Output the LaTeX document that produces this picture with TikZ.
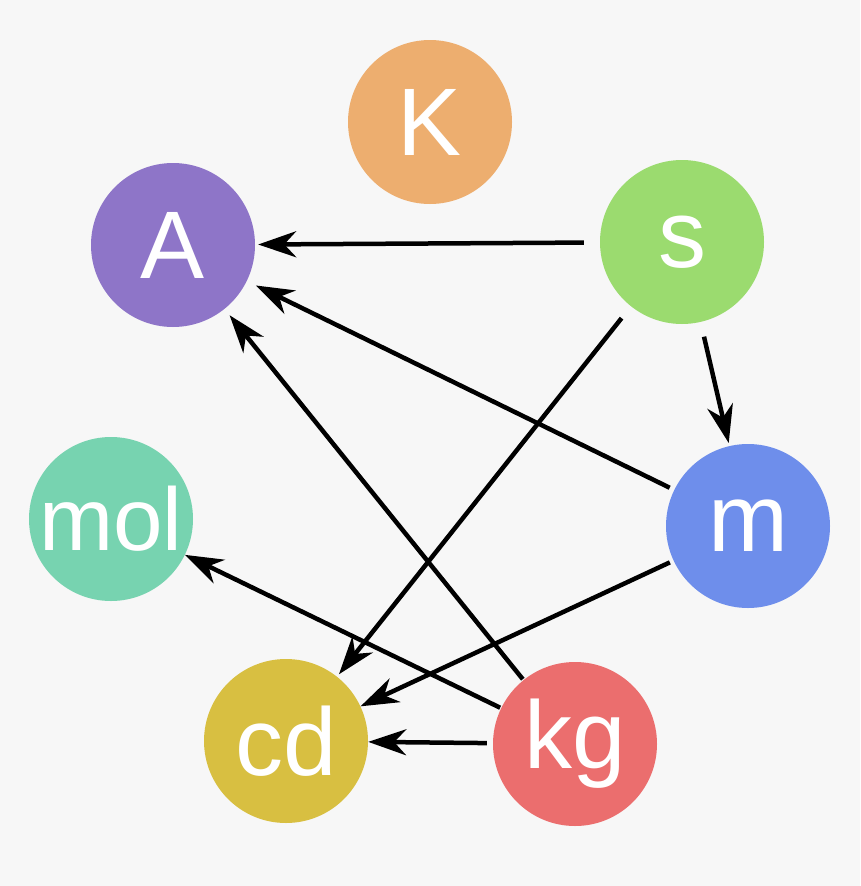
\documentclass[tikz,border=0pt]{standalone}
\usepackage{fontspec}
\setmainfont{Liberation Sans}
\usetikzlibrary{arrows.meta}
\definecolor{bgcol}{HTML}{F7F7F7}
\definecolor{colK}{HTML}{EDAE6F}
\definecolor{colA}{HTML}{8E75C8}
\definecolor{cols}{HTML}{9BDB6F}
\definecolor{colmol}{HTML}{77D3B0}
\definecolor{colm}{HTML}{6E8EEB}
\definecolor{colcd}{HTML}{D8BF41}
\definecolor{colkg}{HTML}{EB6E6E}
\tikzset{
  unit/.style={circle, minimum size=164pt, inner sep=0pt, text=white},
  link/.style={line width=4.5pt, -{Stealth[length=38pt, width=26pt, inset=12pt]}}
}

\begin{document}
\begin{tikzpicture}[x=1pt,y=-1pt]
        \fill[bgcol] (0,0) rectangle (860,886);
        \useasboundingbox (0,0) rectangle (860,886);
        \foreach \n/\t/\x/\y/\f in {kelvin/K/430/122/96, ampere/A/173/245/96, second/s/682/242/96, mole/mol/111/519/89,
                                 metre/m/748/526/96, candela/cd/286/741/96, kilogram/kg/575/744/96}{
            \node[unit, fill=col\t, font=\fontsize{\f}{\f}\selectfont] (\n) at (\x,\y) {\t};
        }
        \foreach \a/\b/\s/\e in {second/ampere/16/3, metre/ampere/5/10, kilogram/ampere/1/8,
                                 second/candela/15/3, second/metre/15/3, metre/candela/4/0,
                                 kilogram/candela/6/0, kilogram/mole/1/0}{
            \draw[link, shorten <=\s pt, shorten >=\e pt] (\a) -- (\b);
        }
    \end{tikzpicture}
\end{document}
